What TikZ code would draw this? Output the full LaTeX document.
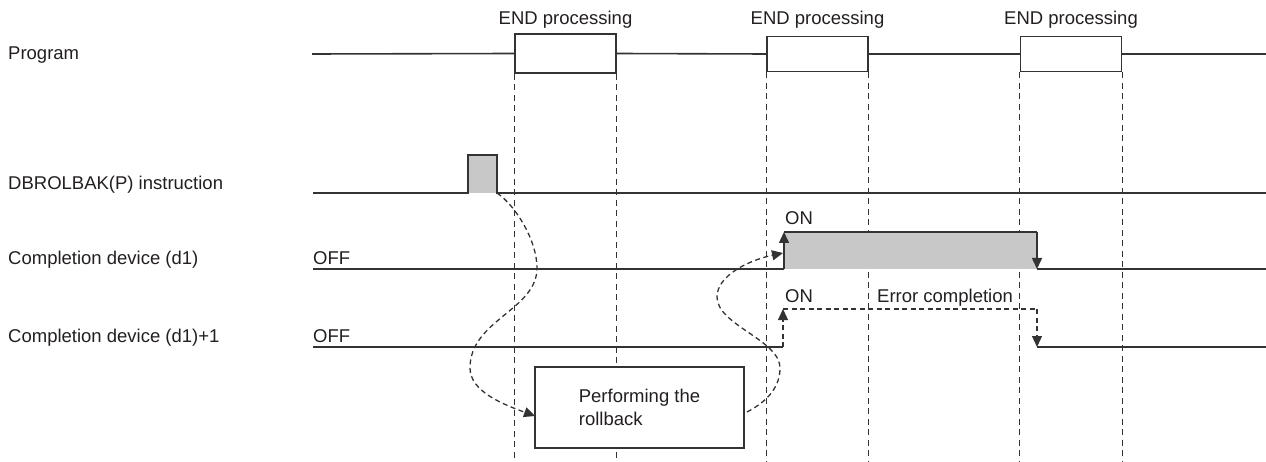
\documentclass[tikz,border=0pt]{standalone}
\usepackage{fontspec}
\setmainfont{Liberation Sans}
\usetikzlibrary{arrows.meta}
\definecolor{ink}{HTML}{333333}
\definecolor{txt}{HTML}{231F20}
\definecolor{pulsegray}{HTML}{C8C8C8}
\begin{document}
\begin{tikzpicture}[x=1pt,y=-1pt,
  every node/.style={font=\fontsize{18.5}{23}\selectfont, text=txt},
  lbl/.style={anchor=base west, inner sep=0pt},
  toplbl/.style={anchor=base, inner sep=0pt},
  sig/.style={draw=ink, line width=1.6pt},
  guide/.style={draw=ink, line width=1.3pt, dash pattern=on 6pt off 4.5pt},
  flow/.style={draw=ink, line width=1.3pt, dash pattern=on 5pt off 3.5pt},
  tri/.style={-{Triangle[length=11pt,width=10pt]}},
  endbox/.style={draw=ink, line width=1.6pt, fill=white, minimum width=101pt, inner sep=0pt},
  rollbox/.style={draw=ink, line width=1.6pt, fill=white, minimum width=209pt, minimum height=81pt, align=left, inner sep=0pt}
]
\useasboundingbox (0,0) rectangle (1266,462);

% row labels
\node[lbl] (lprog) at (8,60) {Program};
\node[lbl] (linst) at (8,190) {DBROLBAK(P) instruction};
\node[lbl] (ld1) at (8,265) {Completion device (d1)};
\node[lbl] (ld1p) at (8,342) {Completion device (d1)+1};
\node[lbl] (off1) at (313,265) {OFF};
\node[lbl] (off2) at (313,342) {OFF};

% END processing boxes
\node[endbox, minimum height=39pt] (e1) at (565.5,53.5) {};
\node[endbox, minimum height=35pt] (e2) at (817.5,54) {};
\node[endbox, minimum height=35pt] (e3) at (1071,54) {};
\node[toplbl] (t1) at (565.5,25) {END processing};
\node[toplbl] (t2) at (817.5,25) {END processing};
\node[toplbl] (t3) at (1071,25) {END processing};

% program line
\coordinate (ps) at (312,54);
\coordinate (pe) at (1266,54);
\draw[sig] (ps) -- (e1.west);
\draw[sig] (e1.east) -- (e2.west);
\draw[sig] (e2.east) -- (e3.west);
\draw[sig] (e3.east) -- (pe);

% dashed guides
\coordinate (g1) at (e1.south west |- 0,462);
\coordinate (g2) at (e1.south east |- 0,462);
\coordinate (g3) at (e2.south west |- 0,462);
\coordinate (g4) at (e2.south east |- 0,462);
\coordinate (g5) at (e3.south west |- 0,462);
\coordinate (g6) at (e3.south east |- 0,462);
\draw[guide] (e1.south west) -- (g1);
\draw[guide] (e1.south east) -- (g2);
\draw[guide] (e2.south west) -- (g3);
\draw[guide] (e2.south east) -- (g4);
\draw[guide] (e3.south west) -- (g5);
\draw[guide] (e3.south east) -- (g6);

% rollback box
\node[rollbox] (rb) at (639.5,407.5) {Performing the\\rollback};

% DBROLBAK pulse
\fill[pulsegray] (468,155) rectangle (497,193);
\coordinate (i0) at (313,193);
\coordinate (ia) at (468,193);
\coordinate (ib) at (468,155);
\coordinate (ic) at (497,155);
\coordinate (id) at (497,193);
\coordinate (ie) at (1266,193);
\draw[sig] (i0) -- (ia) -- (ib) -- (ic) -- (id) -- (ie);

% completion device (d1)
\fill[pulsegray] (784,232) rectangle (1037,269);
\coordinate (d0) at (313,269);
\coordinate (da) at (784,269);
\coordinate (db) at (784,232);
\coordinate (dc) at (1037,232);
\coordinate (dd) at (1037,269);
\coordinate (de) at (1266,269);
\draw[sig] (d0) -- (da);
\draw[sig, tri] (da) -- (db);
\draw[sig] (db) -- (dc);
\draw[sig, tri] (dc) -- (dd);
\draw[sig] (dd) -- (de);
\node[lbl] (on1) at (785,225) {ON};

% completion device (d1)+1
\coordinate (q0) at (313,347);
\coordinate (qa) at (783,347);
\coordinate (qb) at (783,309);
\coordinate (qc) at (1037,309);
\coordinate (qd) at (1037,347);
\coordinate (qe) at (1266,347);
\draw[sig] (q0) -- (qa);
\draw[flow, tri] (qa) -- (qb);
\draw[flow] (qb) -- (qc);
\draw[flow, tri] (qc) -- (qd);
\draw[sig] (qd) -- (qe);
\node[lbl] (on2) at (785,302) {ON};
\node[lbl] (err) at (877,302) {Error completion};

% flow curves
\coordinate (c1e) at (535,416);
\draw[flow, tri] (id) .. controls (515,205) and (537,240) .. (537,268)
  .. controls (537,310) and (470,320) .. (470,368)
  .. controls (470,392) and (505,405) .. (c1e);
\coordinate (c2s) at (747,412);
\coordinate (c2e) at (783,253);
\draw[flow, tri] (c2s) .. controls (770,400) and (780,385) .. (780,368)
  .. controls (780,340) and (717,325) .. (717,297)
  .. controls (717,275) and (750,260) .. (c2e);

\end{tikzpicture}
\end{document}
